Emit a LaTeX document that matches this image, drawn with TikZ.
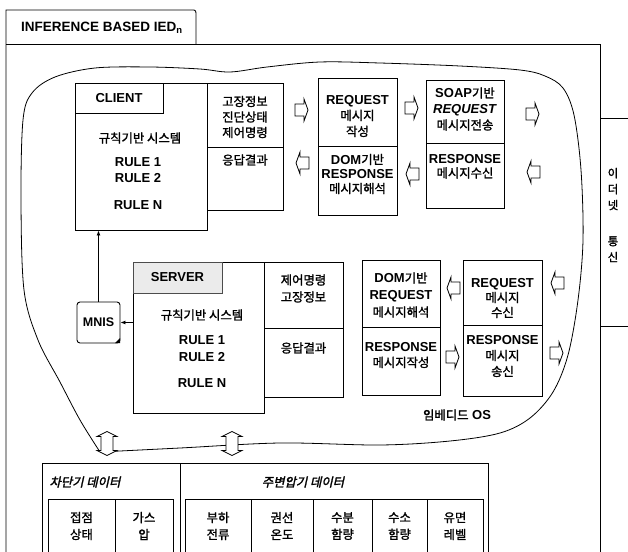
\documentclass[tikz,border=0pt]{standalone}
\usepackage{fontspec}
\setmainfont{Liberation Sans}
\newfontfamily\kr{Noto Sans CJK KR}[Scale=0.95,FakeBold=1.6]
\newfontfamily\krit{Noto Sans CJK KR}[Scale=0.95,FakeSlant=0.22,FakeBold=2]
\newcommand\hk[1]{{\kr\mdseries #1}}
\usetikzlibrary{fit,arrows.meta}
\tikzset{
  box/.style={draw, line width=0.9pt, inner sep=0pt},
  lbl/.style={inner sep=0pt, align=center, font=\fontsize{13}{15}\selectfont\bfseries},
  pics/blkR/.style={code={\draw[line width=0.8pt, fill=white]
    (-7,-6) -- (2,-6) -- (2,-11) -- (6,0) -- (2,11) -- (2,6) -- (-7,6) -- cycle;}},
  pics/blkL/.style={code={\draw[line width=0.8pt, fill=white]
    (7,-6) -- (-2,-6) -- (-2,-11) -- (-6,0) -- (-2,11) -- (-2,6) -- (7,6) -- cycle;}},
  pics/dblV/.style={code={\draw[line width=0.8pt, fill=white]
    (-6,-7) -- (-10,-7) -- (0,-12) -- (10,-7) -- (6,-7) -- (6,7) -- (10,7) -- (0,12) -- (-10,7) -- (-6,7) -- cycle;}},
  con/.style={line width=0.8pt, -{Latex[length=5pt,width=4pt]}}
}
\begin{document}
\begin{tikzpicture}[x=1pt,y=-1pt]
\useasboundingbox (0,0) rectangle (628,551);
% outer frame
\draw[line width=0.9pt] (6,560) -- (6,10) -- (194,10) to[out=0,in=90] (196,13) -- (196,44);
\draw[line width=0.9pt] (6,44) -- (600,44) -- (600,560);
\node[lbl, anchor=west, font=\fontsize{13.5}{15}\selectfont\bfseries] (title) at (21,28) {INFERENCE BASED IED\textsubscript{n}};
% ethernet
\node[box, fit={(600,118) (640,326)}] (eth) {};
\node[lbl, font=\fontsize{12}{16}\selectfont] (ethtxt) at (613,215) {\hk{이}\\\hk{더}\\\hk{넷}\\[20pt]\hk{통}\\\hk{신}};
% cloud (embedded OS)
\draw[line width=0.8pt] plot[smooth, tension=0.55] coordinates {(100,452) (180,448) (280,443) (380,445) (450,441) (500,433) (530,418) (553,392) (568,355) (578,300) (583,240) (581,170) (574,115) (563,88) (545,76) (520,70) (460,66) (380,63) (320,62) (267,67) (230,72) (200,69) (150,67) (95,68) (55,77) (32,93) (23,120) (21,200) (24,290) (38,340) (60,382) (80,420) (100,452)};
\node[lbl] (os) at (457,415) {\hk{임베디드} OS};
% CLIENT
\node[box, fit={(75,83) (207,230)}] (clmain) {};
\node[box, fit={(75,83) (163,113)}] (cltab) {};
\node[box, fit={(207,83) (283,147)}] (clp1) {};
\node[box, fit={(207,147) (283,210)}] (clp2) {};
\node[lbl] at (cltab) (cltxt) {CLIENT};
\node[lbl] (clrule) at (140,138) {\hk{규칙기반 시스템}};
\node[lbl, font=\fontsize{13}{16}\selectfont\bfseries] (clr12) at (138,170) {RULE 1\\RULE 2};
\node[lbl] (clrn) at (138,205) {RULE N};
\node[lbl, font=\fontsize{13}{15.5}\selectfont\bfseries] (clp1t) at (245,117) {\hk{고장정보}\\\hk{진단상태}\\\hk{제어명령}};
\node[lbl] (clp2t) at (245,160) {\hk{응답결과}};
% REQUEST / DOM (client side)
\node[box, fit={(318,78) (397,146)}] (rq1) {};
\node[box, fit={(318,146) (397,215)}] (rs1) {};
\node[lbl, font=\fontsize{13}{16}\selectfont\bfseries] (rq1t) at (357.5,116) {REQUEST\\\hk{메시지}\\\hk{작성}};
\node[lbl, font=\fontsize{13}{14.5}\selectfont\bfseries] (rs1t) at (357.5,174) {DOM\hk{기반}\\RESPONSE\\\hk{메시지해석}};
% SOAP
\node[box, fit={(426,80) (504,143)}] (rq2) {};
\node[box, fit={(426,143) (504,208)}] (rs2) {};
\node[lbl, font=\fontsize{13}{16}\selectfont\bfseries] (rq2t) at (465,109) {SOAP\hk{기반}\\\textit{REQUEST}\\\hk{메시지전송}};
\node[lbl, font=\fontsize{13}{14}\selectfont\bfseries] (rs2t) at (465,166.5) {RESPONSE\\\hk{메시지수신}};
% small arrows client side
\pic (a1) at (302,110) {blkR};
\pic (a2) at (412,108) {blkR};
\pic (a3) at (533,114) {blkR};
\pic (b1) at (302,163) {blkL};
\pic (b2) at (412,174) {blkL};
\pic (b3) at (533,172) {blkL};
% SERVER
\node[box, fit={(133,262) (264,413)}] (svmain) {};
\node[box, draw=black!70, fill=black!8, fit={(133,262) (222,293)}] (svtab) {};
\node[box, fit={(264,262) (343,328)}] (svp1) {};
\node[box, fit={(264,328) (343,397)}] (svp2) {};
\node[lbl] at (svtab) (svtxt) {SERVER};
\node[lbl] (svrule) at (202,315) {\hk{규칙기반 시스템}};
\node[lbl, font=\fontsize{13}{17}\selectfont\bfseries] (svr12) at (202,348.5) {RULE 1\\RULE 2};
\node[lbl] (svrn) at (202,383) {RULE N};
\node[lbl, font=\fontsize{13}{17}\selectfont\bfseries] (svp1t) at (303.5,288.5) {\hk{제어명령}\\\hk{고장정보}};
\node[lbl] (svp2t) at (303.5,348) {\hk{응답결과}};
% DOM (server side)
\node[box, fit={(362,260) (440,327)}] (rq3) {};
\node[box, fit={(362,327) (440,395)}] (rs3) {};
\node[lbl, font=\fontsize{13}{17}\selectfont\bfseries] (rq3t) at (401,295) {DOM\hk{기반}\\REQUEST\\\hk{메시지해석}};
\node[lbl, font=\fontsize{13}{16}\selectfont\bfseries] (rs3t) at (401,355) {RESPONSE\\\hk{메시지작성}};
% REQUEST receive
\node[box, fit={(463,260) (542,325)}] (rq4) {};
\node[box, fit={(463,325) (542,396)}] (rs4) {};
\node[lbl, font=\fontsize{13}{15}\selectfont\bfseries] (rq4t) at (502.5,298) {REQUEST\\\hk{메시지}\\\hk{수신}};
\node[lbl, font=\fontsize{13}{16}\selectfont\bfseries] (rs4t) at (502.5,356) {RESPONSE\\\hk{메시지}\\\hk{송신}};
% small arrows server side
\pic (c1) at (453,288) {blkL};
\pic (c2) at (557,283) {blkL};
\pic (d1) at (453,357) {blkR};
\pic (d2) at (557,353) {blkR};
% MNIS
\node[box, rounded corners=3pt, fit={(77,302) (120,343)}] (mnis) {};
\fill (120,338) -- (120,343) -- (115,343) -- cycle;
\node[lbl, font=\fontsize{12.5}{15}\selectfont\bfseries] (mnist) at (mnis) {MNIS};
\draw[con] (mnis.east -| svmain.west) -- (mnis.east);
\draw[con] (mnis.north) -- (mnis.north |- clmain.south);
% double arrows
\pic (da1) at (107,443.5) {dblV};
\pic (da2) at (232,443.5) {dblV};
% bottom data boxes
\draw[line width=0.9pt] (42,560) -- (42,463) -- (488,463) -- (488,560);
\draw[line width=0.9pt] (180,463) -- (180,560);
\node[lbl, font=\krit\fontsize{13}{15}\selectfont] (brk) at (85,482) {차단기 데이터};
\node[lbl, font=\krit\fontsize{13}{15}\selectfont] (trf) at (303,482) {주변압기 데이터};
\node[box, fit={(48,499) (115,560)}] (e1) {};
\node[box, fit={(115,499) (173,560)}] (e2) {};
\node[box, fit={(185,499) (251,560)}] (e3) {};
\node[box, fit={(251,499) (313,560)}] (e4) {};
\node[box, fit={(313,499) (372,560)}] (e5) {};
\node[box, fit={(372,499) (427,560)}] (e6) {};
\node[box, fit={(427,499) (483,560)}] (e7) {};
\tikzset{cell/.style={lbl, font=\fontsize{13}{17}\selectfont}}
\node[cell] (t1) at (81.5,526) {\hk{접점}\\\hk{상태}};
\node[cell] (t2) at (144,526) {\hk{가스}\\\hk{압}};
\node[cell] (t3) at (218,526) {\hk{부하}\\\hk{전류}};
\node[cell] (t4) at (282,526) {\hk{권선}\\\hk{온도}};
\node[cell] (t5) at (342.5,526) {\hk{수분}\\\hk{함량}};
\node[cell] (t6) at (399.5,526) {\hk{수소}\\\hk{함량}};
\node[cell] (t7) at (455,526) {\hk{유면}\\\hk{레벨}};
\end{tikzpicture}
\end{document}
